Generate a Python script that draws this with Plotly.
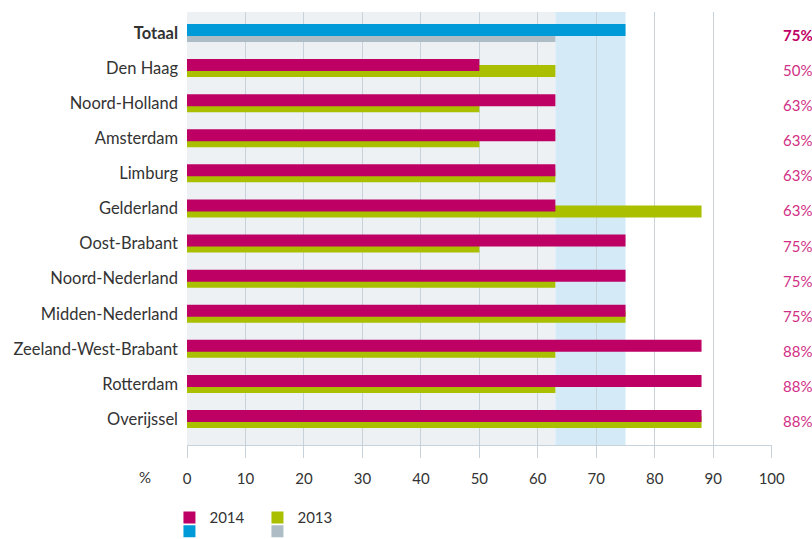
import plotly.graph_objects as go

# Regions, top to bottom; first row is the national total
regions = ["Totaal", "Den Haag", "Noord-Holland", "Amsterdam", "Limburg", "Gelderland",
           "Oost-Brabant", "Noord-Nederland", "Midden-Nederland", "Zeeland-West-Brabant",
           "Rotterdam", "Overijssel"]
score_2014 = [75, 50, 63, 63, 63, 63, 75, 75, 75, 88, 88, 88]
score_2013 = [63, 63, 50, 50, 63, 88, 50, 63, 75, 63, 63, 88]
x_ticks = [0, 10, 20, 30, 40, 50, 60, 70, 80, 90, 100]

MAGENTA = "#be0064"
GREEN = "#a9bf00"
BLUE = "#009ad9"
GREY = "#adbcc5"
GRID = "#c7d2da"
FONT = "Lato"

total_2014 = score_2014[0]
total_2013 = score_2013[0]

bar_w = 0.342
off_2014 = -0.2565
off_2013 = -0.0855

fig = go.Figure()

# 2013 bars go first so the 2014 bars sit on top of them
fig.add_trace(go.Bar(
    y=regions[1:], x=score_2013[1:], orientation="h", name="2013",
    marker=dict(color=GREEN, line=dict(width=0)), width=bar_w, offset=off_2013,
    legend="legend", legendrank=2, hoverinfo="x+y"))
fig.add_trace(go.Bar(
    y=regions[:1], x=score_2013[:1], orientation="h", name=" ",
    marker=dict(color=GREY, line=dict(width=0)), width=bar_w, offset=off_2013,
    legend="legend2", legendrank=2, hoverinfo="x+y"))
fig.add_trace(go.Bar(
    y=regions[1:], x=score_2014[1:], orientation="h", name="2014",
    marker=dict(color=MAGENTA, line=dict(width=0)), width=bar_w, offset=off_2014,
    legend="legend", legendrank=1, hoverinfo="x+y"))
fig.add_trace(go.Bar(
    y=regions[:1], x=score_2014[:1], orientation="h", name=" ",
    marker=dict(color=BLUE, line=dict(width=0)), width=bar_w, offset=off_2014,
    legend="legend2", legendrank=1, hoverinfo="x+y"))

# Background bands: up to the 2013 total, and from there to the 2014 total
fig.add_shape(type="rect", xref="x", yref="paper", x0=0, x1=total_2013, y0=0, y1=1,
              fillcolor="#edf1f4", line=dict(width=0), layer="below")
fig.add_shape(type="rect", xref="x", yref="paper", x0=total_2013, x1=total_2014, y0=0, y1=1,
              fillcolor="#d5eaf7", line=dict(width=0), layer="below")

# 2014 score printed at the right-hand side of each row
for i, (reg, v) in enumerate(zip(regions, score_2014)):
    txt = f"<b>{v}%</b>" if i == 0 else f"{v}%"
    fig.add_annotation(x=100, y=reg, xref="x", yref="y", text=txt, showarrow=False,
                       xanchor="left", xshift=9, yshift=-2,
                       font=dict(family=FONT, size=15, color=MAGENTA if i == 0 else "#d12f86"))

fig.add_annotation(x=0, y=0, xref="paper", yref="paper", text="%", showarrow=False,
                   xanchor="center", yanchor="middle", xshift=-42, yshift=-32,
                   font=dict(family=FONT, size=15, color="#333333"))

ticktext = ["<b>Totaal</b>"] + regions[1:]

fig.update_layout(
    width=812, height=539,
    margin=dict(l=187, r=40, t=12, b=94, autoexpand=False),
    paper_bgcolor="white", plot_bgcolor="rgba(0,0,0,0)",
    barmode="overlay",
    font=dict(family=FONT, color="#333333"),
    xaxis=dict(range=[0, 100.05], tickvals=x_ticks, showgrid=True, gridcolor=GRID, gridwidth=1.3,
               zeroline=False, showline=True, linecolor=GRID, linewidth=1.3,
               ticks="outside", ticklen=12, tickcolor=GRID, tickwidth=1.3,
               ticklabelstandoff=8,
               tickfont=dict(family=FONT, size=15, color="#333333")),
    yaxis=dict(type="category", categoryarray=regions, range=[11.741, -0.598],
               tickvals=regions, ticktext=ticktext, showgrid=False, zeroline=False,
               showline=False, ticks="", ticklabelstandoff=8,
               tickfont=dict(family=FONT, size=16.5, color="#333333")),
    legend=dict(orientation="h", x=-0.03, xanchor="left", y=-0.168, yanchor="middle",
                entrywidth=43, font=dict(family=FONT, size=15, color="#333333"),
                traceorder="normal", itemclick=False, bgcolor="rgba(0,0,0,0)"),
    legend2=dict(orientation="h", x=-0.03, xanchor="left", y=-0.2, yanchor="middle",
                 entrywidth=43, font=dict(family=FONT, size=15, color="#333333"),
                 traceorder="normal", itemclick=False, bgcolor="rgba(0,0,0,0)"),
    showlegend=True,
)

fig.write_html("out.html")
